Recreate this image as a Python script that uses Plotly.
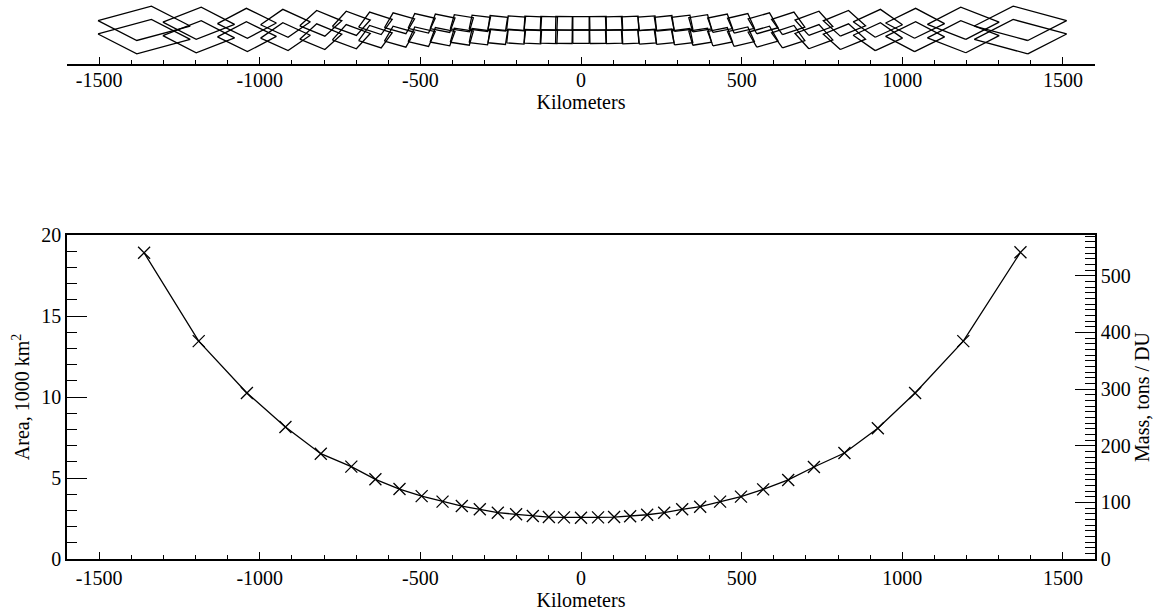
import numpy as np
import plotly.graph_objects as go

# Cross-track pixel centres (km) and ground-pixel area (1000 km^2)
xtrack_km = [-1360, -1190, -1040, -920, -810, -715, -640, -565, -496, -431,
             -371, -315, -259, -202, -150, -100, -53, 0, 53, 103, 153, 206,
             259, 315, 371, 433, 498, 567, 645, 725, 820, 924, 1040, 1190, 1368]
area_1000km2 = [18.9, 13.45, 10.25, 8.15, 6.5, 5.7, 4.92, 4.32, 3.88, 3.54,
                3.27, 3.07, 2.86, 2.76, 2.65, 2.59, 2.57, 2.55, 2.57, 2.59,
                2.64, 2.73, 2.86, 3.07, 3.23, 3.54, 3.85, 4.3, 4.88, 5.68,
                6.54, 8.07, 10.25, 13.45, 18.93]

# Footprint along-track size (km) and rotation of each ground pixel (deg)
along_km = [92, 85, 79, 74, 69, 66, 63, 60, 58, 56, 54, 53, 52, 51, 51, 50, 50,
            50, 50, 50, 51, 51, 52, 53, 54, 56, 58, 60, 63, 66, 69, 74, 79, 85, 92]
tilt_deg = [54, 49, 44, 39, 34, 30, 26, 22, 18, 15, 12, 9, 7, 5, 3, 2, 1, 0,
            -1, -2, -3, -5, -7, -9, -12, -15, -18, -22, -26, -30, -34, -39,
            -44, -49, -54]

# Along-track centres of the two consecutive scan lines (km)
scan_rows_km = [25, -25]

# Tons of SO2 per DU per 1000 km^2
tons_per_du_per_1000km2 = 28.6

FONT = "Liberation Serif"
BLACK = "black"

# Build footprint outlines: unit square rotated, then scaled to pixel size
unit = np.array([[-0.5, -0.5], [-0.5, 0.5], [0.5, 0.5], [0.5, -0.5], [-0.5, -0.5]])
fx, fy = [], []
for yc in scan_rows_km:
    for xc, a, h, t in zip(xtrack_km, area_1000km2, along_km, tilt_deg):
        w = a * 1000.0 / h
        th = np.radians(t)
        xr = unit[:, 0] * np.cos(th) + unit[:, 1] * np.sin(th)
        yr = -unit[:, 0] * np.sin(th) + unit[:, 1] * np.cos(th)
        fx.extend(list(xc + w * xr) + [None])
        fy.extend(list(yc + h * yr) + [None])

fig = go.Figure()

fig.add_trace(go.Scatter(
    x=fx, y=fy, mode="lines", xaxis="x2", yaxis="y3",
    line=dict(color=BLACK, width=1.3), hoverinfo="skip", showlegend=False))

fig.add_trace(go.Scatter(
    x=xtrack_km, y=area_1000km2, mode="lines+markers", xaxis="x", yaxis="y",
    line=dict(color=BLACK, width=1.3),
    marker=dict(symbol="x-thin", size=12, color=BLACK,
                line=dict(color=BLACK, width=1.3)),
    showlegend=False))

# keeps the right-hand mass axis attached to the plot
fig.add_trace(go.Scatter(x=[None], y=[None], xaxis="x", yaxis="y2",
                         showlegend=False, hoverinfo="skip"))

W, H = 1153, 612
tickfont = dict(family=FONT, size=20, color=BLACK)
titlefont = dict(family=FONT, size=20, color=BLACK)
xticks = [-1500, -1000, -500, 0, 500, 1000, 1500]

common_x = dict(
    range=[-1600, 1600], showline=True, linecolor=BLACK, linewidth=1.6,
    ticks="inside", ticklen=7, tickwidth=1.3, tickcolor=BLACK,
    tickvals=xticks, ticktext=[str(v) for v in xticks],
    minor=dict(dtick=100, tick0=0, ticks="inside", ticklen=4,
               tickwidth=1.2, tickcolor=BLACK),
    showgrid=False, zeroline=False, tickfont=tickfont, automargin=False,
)

fig.update_layout(
    width=W, height=H,
    margin=dict(l=67, r=58, t=0, b=0, autoexpand=False),
    paper_bgcolor="white", plot_bgcolor="white",
    font=dict(family=FONT, color=BLACK),
    xaxis=dict(common_x, anchor="y", domain=[0, 1], mirror=True,
               title=dict(text="Kilometers", font=titlefont, standoff=1)),
    yaxis=dict(
        domain=[53 / H, 377 / H], range=[0, 20], anchor="x",
        showline=True, linecolor=BLACK, linewidth=1.6,
        ticks="inside", ticklen=20, tickwidth=1.3, tickcolor=BLACK,
        dtick=5, tick0=0,
        minor=dict(dtick=1, tick0=0, ticks="inside", ticklen=10,
                   tickwidth=1.2, tickcolor=BLACK),
        showgrid=False, zeroline=False, tickfont=tickfont, automargin=False,
        title=dict(text="Area, 1000 km<sup>2</sup>", font=titlefont,
                   standoff=6)),
    yaxis2=dict(
        overlaying="y", side="right", anchor="x",
        range=[0, 20 * tons_per_du_per_1000km2],
        showline=True, linecolor=BLACK, linewidth=1.6,
        ticks="inside", ticklen=20, tickwidth=1.3, tickcolor=BLACK,
        dtick=100, tick0=0,
        minor=dict(dtick=10, tick0=0, ticks="inside", ticklen=10,
                   tickwidth=1.2, tickcolor=BLACK),
        showgrid=False, zeroline=False, tickfont=tickfont, automargin=False,
        title=dict(text="Mass, tons / DU", font=titlefont, standoff=6)),
    xaxis2=dict(common_x, anchor="y3", domain=[0, 1], ticklabelstandoff=-3,
                title=dict(text="Kilometers", font=titlefont, standoff=1)),
    yaxis3=dict(domain=[(H - 64) / H, 1], range=[-127, 112], anchor="x2",
                visible=False, fixedrange=True, automargin=False),
)

fig.write_html("out.html")
